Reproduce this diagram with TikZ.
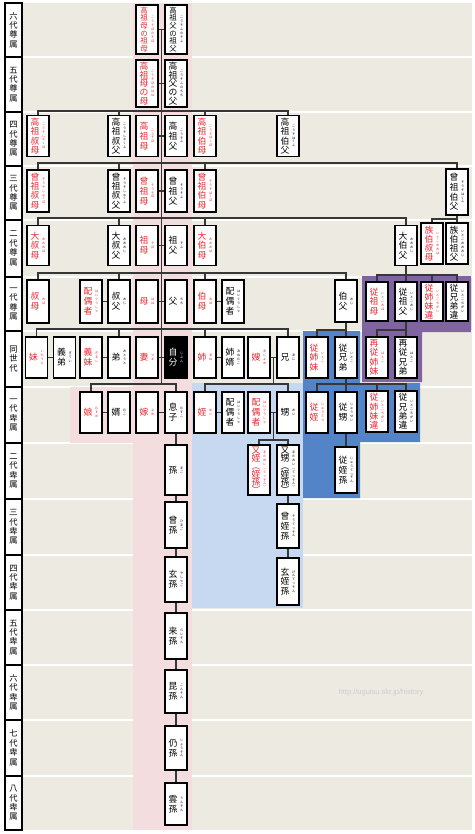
\documentclass[tikz,border=0pt]{standalone}
\usepackage{fontspec}
\setmainfont{Noto Sans CJK JP}
\newfontfamily\urlfont{Liberation Sans}
\usetikzlibrary{calc}

\definecolor{bgbeige}{RGB}{237,234,226}
\definecolor{bgpink}{RGB}{243,221,222}
\definecolor{bglblue}{RGB}{198,217,240}
\definecolor{bgmblue}{RGB}{82,132,199}
\definecolor{bgpurple}{RGB}{128,99,161}
\definecolor{kred}{RGB}{232,38,46}
\definecolor{linec}{RGB}{55,55,55}

\ExplSyntaxOn
\NewDocumentCommand\tate{m}
 {
  \seq_clear:N \l_tmpa_seq
  \tl_map_inline:nn {#1} { \seq_put_right:Nn \l_tmpa_seq {##1} }
  \seq_use:Nn \l_tmpa_seq { \\ }
 }
\ExplSyntaxOff

\newcommand\kbox[3][9.8]{%
  \parbox[c]{9pt}{\centering\lineskiplimit=-9pt\fontsize{8.8}{#1}\selectfont\tate{#2}}%
  \hspace{2.6pt}%
  \parbox[c]{3.4pt}{\centering\lineskiplimit=-9pt\fontsize{3.2}{3.9}\selectfont\tate{#3}}}
\newcommand\kboxsm[2]{%
  \parbox[c]{9pt}{\centering\lineskiplimit=-9pt\fontsize{7.4}{7.6}\selectfont\tate{#1}}%
  \hspace{2.6pt}%
  \parbox[c]{3.4pt}{\centering\lineskiplimit=-9pt\fontsize{3.2}{3.9}\selectfont\tate{#2}}}

\tikzset{
  kin/.style={draw=black, line width=1.3pt, fill=white, minimum width=22pt, inner sep=0pt, text=black},
  man/.style={kin},
  woman/.style={kin, text=kred},
  me/.style={kin, fill=black, text=white},
  gen/.style={draw=black, line width=1.3pt, fill=white, minimum width=17pt, inner sep=0pt,
    align=center, font=\fontsize{8.3}{9.4}\selectfont},
  link/.style={draw=linec, line width=1.1pt},
}

\begin{document}
\begin{tikzpicture}[x=1pt,y=-1pt]
\useasboundingbox (0,0) rectangle (474,834);
\fill[white] (0,0) rectangle (474,834);
\fill[bgbeige] (22,3) rectangle (472,830);
\foreach \y in {57,112,166,220,277,331,387,443,499,555,610,665,720,776}
  \draw[white, line width=1.2pt] (22,\y) -- (472,\y);
\fill[bgpink] (133,3) rectangle (192,830);
\fill[bgpink] (70,387) rectangle (133,443);
\fill[bglblue] (192,383) rectangle (303,608);
\fill[bgmblue] (303,331) -- (360,331) -- (360,383) -- (420,383) -- (420,442) -- (360,442) -- (360,498) -- (303,498) -- cycle;
\fill[bgpurple] (362,276) -- (471,276) -- (471,332) -- (422,332) -- (422,382) -- (362,382) -- cycle;

\node[gen, minimum height=54pt] (r6a) at (13.5,30) {\tate{六代尊属}};
\node[gen, minimum height=55pt] (r5a) at (13.5,84.5) {\tate{五代尊属}};
\node[gen, minimum height=54pt] (r4a) at (13.5,139) {\tate{四代尊属}};
\node[gen, minimum height=54pt] (r3a) at (13.5,193) {\tate{三代尊属}};
\node[gen, minimum height=57pt] (r2a) at (13.5,248.5) {\tate{二代尊属}};
\node[gen, minimum height=54pt] (r1a) at (13.5,304) {\tate{一代尊属}};
\node[gen, minimum height=56pt] (r0) at (13.5,359) {\tate{同世代}};
\node[gen, minimum height=56pt] (r1d) at (13.5,415) {\tate{一代卑属}};
\node[gen, minimum height=56pt] (r2d) at (13.5,471) {\tate{二代卑属}};
\node[gen, minimum height=56pt] (r3d) at (13.5,527) {\tate{三代卑属}};
\node[gen, minimum height=55pt] (r4d) at (13.5,582.5) {\tate{四代卑属}};
\node[gen, minimum height=55pt] (r5d) at (13.5,637.5) {\tate{五代卑属}};
\node[gen, minimum height=55pt] (r6d) at (13.5,692.5) {\tate{六代卑属}};
\node[gen, minimum height=56pt] (r7d) at (13.5,748) {\tate{七代卑属}};
\node[gen, minimum height=54pt] (r8d) at (13.5,803) {\tate{八代卑属}};

\node[woman, minimum height=49pt] (gm6) at (147,29.5) {\kboxsm{高祖母の祖母}{こうそぼのそぼ}};
\node[man, minimum height=49pt] (gf6) at (176,29.5) {\kboxsm{高祖父の祖父}{こうそふのそふ}};

\node[woman, minimum height=47pt] (gm5) at (147,83.5) {\kbox[8.7]{高祖母の母}{こうそぼのはは}};
\node[man, minimum height=47pt] (gf5) at (176,83.5) {\kbox[8.7]{高祖父の父}{こうそふのちち}};

\node[woman, minimum height=41pt] (a4) at (38,136) {\kbox[9.4]{高祖叔母}{こうそしゅくぼ}};
\node[man, minimum height=41pt] (b4) at (119,136) {\kbox[9.4]{高祖叔父}{こうそしゅくふ}};
\node[woman, minimum height=41pt] (gm4) at (147,136) {\kbox{高祖母}{こうそぼ}};
\node[man, minimum height=41pt] (gf4) at (176,136) {\kbox{高祖父}{こうそふ}};
\node[woman, minimum height=41pt] (c4) at (205,136) {\kbox[9.4]{高祖伯母}{こうそはくぼ}};
\node[man, minimum height=41pt] (d4) at (288,136) {\kbox[9.4]{高祖伯父}{こうそはくふ}};

\node[woman, minimum height=42pt] (a3) at (38,191) {\kbox[9.4]{曾祖叔母}{そうそしゅくぼ}};
\node[man, minimum height=42pt] (b3) at (119,191) {\kbox[9.4]{曾祖叔父}{そうそしゅくふ}};
\node[woman, minimum height=42pt] (gm3) at (147,191) {\kbox{曾祖母}{そうそぼ}};
\node[man, minimum height=42pt] (gf3) at (176,191) {\kbox{曾祖父}{そうそふ}};
\node[woman, minimum height=42pt] (c3) at (205,191) {\kbox[9.4]{曾祖伯母}{そうそはくぼ}};
\node[man, minimum height=46pt] (d3) at (457,192) {\kbox{曾祖伯父}{そうそはくふ}};

\node[woman, minimum height=40pt] (a2) at (38,245.5) {\kbox{大叔母}{おおおば}};
\node[man, minimum height=40pt] (b2) at (119,245.5) {\kbox{大叔父}{おおおじ}};
\node[woman, minimum height=40pt] (gm2) at (147,245.5) {\kbox{祖母}{そぼ}};
\node[man, minimum height=40pt] (gf2) at (176,245.5) {\kbox{祖父}{そふ}};
\node[woman, minimum height=40pt] (c2) at (205,245.5) {\kbox{大伯母}{おおおば}};
\node[man, minimum height=40pt] (d2) at (406,245.5) {\kbox{大伯父}{おおおじ}};
\node[woman, minimum height=41pt] (e2) at (432,243.5) {\kbox[9.2]{族伯叔母}{いとこおおば}};
\node[man, minimum height=41pt] (f2) at (457,243.5) {\kbox[9.2]{族伯祖父}{いとこおおおじ}};

\node[woman, minimum height=43pt] (a1) at (38,301.5) {\kbox{叔母}{おば}};
\node[woman, minimum height=43pt] (s1) at (91,301.5) {\kbox{配偶者}{はいぐうしゃ}};
\node[man, minimum height=43pt] (b1) at (119,301.5) {\kbox{叔父}{おじ}};
\node[woman, minimum height=43pt] (mo) at (147,301.5) {\kbox{母}{はは}};
\node[man, minimum height=43pt] (fa) at (176,301.5) {\kbox{父}{ちち}};
\node[woman, minimum height=43pt] (c1) at (205,301.5) {\kbox{伯母}{おば}};
\node[man, minimum height=43pt] (t1) at (233,301.5) {\kbox{配偶者}{はいぐうしゃ}};
\node[man, minimum height=42pt] (d1) at (346,301) {\kbox{伯父}{おじ}};
\node[woman, minimum height=39pt] (p1) at (377,301.5) {\kbox{従祖母}{いとこおば}};
\node[man, minimum height=39pt] (q1) at (406,301.5) {\kbox{従祖父}{いとこおじ}};
\node[woman, minimum height=39pt] (v1) at (432,301.5) {\kbox[9]{従姉妹違}{いとこちがい}};
\node[man, minimum height=39pt] (w1) at (457,301.5) {\kbox[9]{従兄弟違}{いとこちがい}};

\node[woman, minimum height=41pt] (ysis) at (36.5,357.5) {\kbox{妹}{いもうと}};
\node[man, minimum height=41pt] (ybil) at (64.5,357.5) {\kbox{義弟}{ぎてい}};
\node[woman, minimum height=41pt] (ysil) at (91,357.5) {\kbox{義妹}{ぎまい}};
\node[man, minimum height=41pt] (ybro) at (119,357.5) {\kbox{弟}{おとうと}};
\node[woman, minimum height=41pt] (wife) at (147,357.5) {\kbox{妻}{つま}};
\node[me, minimum height=41pt] (self) at (176,357.5) {\kbox{自分}{じぶん}};
\node[woman, minimum height=41pt] (esis) at (205,357.5) {\kbox{姉}{あね}};
\node[man, minimum height=41pt] (ebil) at (233,357.5) {\kbox{姉婿}{あねむこ}};
\node[woman, minimum height=41pt] (esil) at (259,357.5) {\kbox{嫂}{あによめ}};
\node[man, minimum height=41pt] (ebro) at (288,357.5) {\kbox{兄}{あに}};
\node[woman, minimum height=41pt] (cz1) at (317,357.5) {\kbox{従姉妹}{いとこ}};
\node[man, minimum height=41pt] (cz2) at (346,357.5) {\kbox{従兄弟}{いとこ}};
\node[woman, minimum height=41pt] (rc1) at (377,357.5) {\kbox[9.4]{再従姉妹}{はとこ}};
\node[man, minimum height=41pt] (rc2) at (406,357.5) {\kbox[9.4]{再従兄弟}{はとこ}};

\node[woman, minimum height=41pt] (dau) at (91,412.5) {\kbox{娘}{むすめ}};
\node[man, minimum height=41pt] (sonil) at (119,412.5) {\kbox{婿}{むこ}};
\node[woman, minimum height=41pt] (dauil) at (147,412.5) {\kbox{嫁}{よめ}};
\node[man, minimum height=41pt] (son) at (176,412.5) {\kbox{息子}{むすこ}};
\node[woman, minimum height=41pt] (niece) at (205,412.5) {\kbox{姪}{めい}};
\node[man, minimum height=41pt] (sp1) at (233,412.5) {\kbox{配偶者}{はいぐうしゃ}};
\node[woman, minimum height=41pt] (sp2) at (259,412.5) {\kbox{配偶者}{はいぐうしゃ}};
\node[man, minimum height=41pt] (nephew) at (288,412.5) {\kbox{甥}{おい}};
\node[woman, minimum height=41pt] (fn1) at (317,412.5) {\kbox{従姪}{じゅうてつ}};
\node[man, minimum height=41pt] (fn2) at (346,412.5) {\kbox{従甥}{じゅうせい}};
\node[woman, minimum height=41pt] (fc1) at (377,411.5) {\kbox[9.4]{従姉妹違}{いとこちがい}};
\node[man, minimum height=41pt] (fc2) at (406,411.5) {\kbox[9.4]{従兄弟違}{いとこちがい}};

\node[man, minimum height=50pt] (gs2) at (176,470) {\kbox{孫}{まご}};
\node[woman, minimum height=50pt] (gn1) at (259,470) {\kbox[8]{又姪︵姪孫︶}{まためい︵てっそん︶}};
\node[man, minimum height=50pt] (gn2) at (288,470) {\kbox[8]{又甥︵姪孫︶}{またおい︵てっそん︶}};
\node[man, minimum height=46pt] (fgn) at (346,470) {\kbox{従姪孫}{じゅうてっそん}};

\node[man, minimum height=46pt] (gs3) at (176,525) {\kbox{曾孫}{ひまご}};
\node[man, minimum height=44pt] (gn3) at (288,526) {\kbox{曾姪孫}{そうてっそん}};
\node[man, minimum height=45pt] (gs4) at (176,579.5) {\kbox{玄孫}{やしゃご}};
\node[man, minimum height=47pt] (gn4) at (288,581.5) {\kbox{玄姪孫}{げんてっそん}};
\node[man, minimum height=46pt] (gs5) at (176,636) {\kbox{来孫}{らいそん}};
\node[man, minimum height=43pt] (gs6) at (176,691.5) {\kbox{昆孫}{こんそん}};
\node[man, minimum height=44pt] (gs7) at (176,748) {\kbox{仍孫}{じょうそん}};
\node[man, minimum height=42pt] (gs8) at (176,804) {\kbox{雲孫}{うんそん}};

\node[text=black!20, font=\urlfont\fontsize{7.5}{8}\selectfont] (url) at (381,693) {http://uguisu.skr.jp/history};

\coordinate (l4) at (0,111);
\coordinate (l3) at (0,163);
\coordinate (l2) at (0,218);
\coordinate (l2b) at (0,219);
\coordinate (l1) at (0,273);
\coordinate (l1b) at (0,275);
\coordinate (l0) at (0,329);
\coordinate (l0b) at (0,330);
\coordinate (lm1) at (0,384);
\coordinate (lm2) at (0,440);

\coordinate (j6) at ($(gm6.east)!.5!(gf6.west)$);
\coordinate (j0) at ($(wife.east)!.5!(self.west)$);
\coordinate (je) at ($(esil.east)!.5!(ebro.west)$);
\coordinate (jn) at ($(sp2.east)!.5!(nephew.west)$);

\foreach \f/\m in {gm6/gf6,gm5/gf5,gm4/gf4,gm3/gf3,gm2/gf2,mo/fa,s1/b1,c1/t1,ysis/ybil,ysil/ybro,wife/self,esis/ebil,esil/ebro,dau/sonil,dauil/son,niece/sp1,sp2/nephew}
  \draw[link] (\f.east) -- (\m.west);

\draw[link] (j6) -- (j0) -- (j0 |- lm1);

\draw[link] (a4.north) -- (a4.north |- l4) -- (d4.north |- l4) -- (d4.north);
\foreach \n in {b4,c4} \draw[link] (\n.north) -- (\n.north |- l4);
\draw[link] (a3.north) -- (a3.north |- l3) -- (d3.north |- l3) -- (d3.north);
\foreach \n in {b3,c3} \draw[link] (\n.north) -- (\n.north |- l3);
\draw[link] (a2.north) -- (a2.north |- l2) -- (d2.north |- l2) -- (d2.north);
\foreach \n in {b2,c2} \draw[link] (\n.north) -- (\n.north |- l2);
\draw[link] (d3.south) -- (f2.north);
\draw[link] (e2.north) -- (e2.north |- l2b) -- (f2.north |- l2b);
\draw[link] (a1.north) -- (a1.north |- l1) -- (d1.north |- l1) -- (d1.north);
\foreach \n in {b1,c1} \draw[link] (\n.north) -- (\n.north |- l1);
\draw[link] (d2.south) -- (q1.north);
\draw[link] (p1.north) -- (p1.north |- l1b) -- (w1.north |- l1b) -- (w1.north);
\draw[link] (v1.north) -- (v1.north |- l1b);
\draw[link] (ysis.north) -- (ysis.north |- l0) -- (ebro.north |- l0) -- (ebro.north);
\foreach \n in {ybro,esis} \draw[link] (\n.north) -- (\n.north |- l0);
\draw[link] (d1.south) -- (cz2.north);
\draw[link] (cz1.north) -- (cz1.north |- l0b) -- (cz2.north |- l0b);
\draw[link] (q1.south) -- (rc2.north);
\draw[link] (rc1.north) -- (rc1.north |- l0b) -- (rc2.north |- l0b);
\draw[link] (dau.north) -- (dau.north |- lm1) -- (son.north |- lm1) -- (son.north);
\draw[link] (je) -- (je |- lm1);
\draw[link] (niece.north) -- (niece.north |- lm1) -- (nephew.north |- lm1) -- (nephew.north);
\draw[link] (cz2.south) -- (fn2.north);
\draw[link] (fn1.north) -- (fn1.north |- lm1) -- (fc2.north |- lm1) -- (fc2.north);
\draw[link] (fc1.north) -- (fc1.north |- lm1);
\draw[link] (jn) -- (jn |- lm2);
\draw[link] (gn1.north) -- (gn1.north |- lm2) -- (gn2.north |- lm2) -- (gn2.north);
\draw[link] (fn2.south) -- (fgn.north);
\draw[link] (son.south) -- (gs2.north);
\foreach \a/\b in {gs2/gs3,gs3/gs4,gs4/gs5,gs5/gs6,gs6/gs7,gs7/gs8,gn2/gn3,gn3/gn4}
  \draw[link] (\a.south) -- (\b.north);
\end{tikzpicture}
\end{document}
